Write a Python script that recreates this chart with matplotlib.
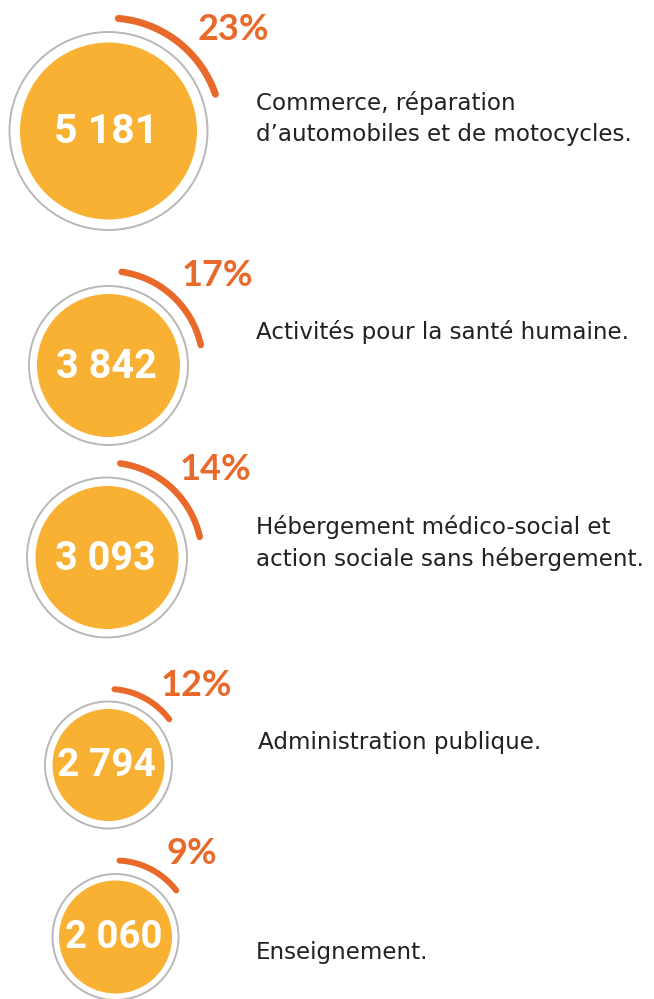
import numpy as np
import matplotlib
matplotlib.use("Agg")
import matplotlib.pyplot as plt
from matplotlib.patches import Circle

# ---- data ----
values = [5181, 3842, 3093, 2794, 2060]
value_labels = ["5 181", "3 842", "3 093", "2 794", "2 060"]
percents = [23, 17, 14, 12, 9]
labels = [
    "Commerce, réparation\nd\u2019automobiles et de motocycles.",
    "Activités pour la santé humaine.",
    "Hébergement médico-social et\naction sociale sans hébergement.",
    "Administration publique.",
    "Enseignement.",
]

# ---- layout (pixels) ----
centers = [(108.5, 131), (108.5, 365.5), (107, 557.5), (108.5, 765), (115.5, 937)]
fill_r = [88.5, 71.5, 71.5, 56, 56.5]
ring_r = [99, 79.5, 80, 63.5, 63]
arc_r = [113, 94.5, 95, 76, 76.5]
arc_a0 = [5, 8, 8, 4.5, 3]
arc_a1 = [71, 77.5, 77.5, 53, 52.5]
arc_w = [7.0, 6.5, 6.5, 6.0, 6.0]
pct_pos = [(233, 30), (217, 276), (215, 469), (196, 685), (192, 853)]
val_size = [29.5, 28.5, 28.5, 28, 27.5]
label_pos = [(256, 118.5), (256, 332), (256, 543), (258, 743), (256, 953)]

ORANGE = "#F9B133"
DARK = "#E8692A"
GRAY = "#B8B8B8"

fig = plt.figure(figsize=(6.54, 9.99), dpi=100)
ax = fig.add_axes([0, 0, 1, 1])
ax.set_xlim(0, 654)
ax.set_ylim(999, 0)
ax.axis("off")

for i in range(len(values)):
    cx, cy = centers[i]
    ax.add_patch(Circle((cx, cy), ring_r[i], facecolor="white", edgecolor=GRAY, lw=1.4))
    ax.add_patch(Circle((cx, cy), fill_r[i], facecolor=ORANGE, edgecolor="none"))
    th = np.radians(np.linspace(arc_a0[i], arc_a1[i], 100))
    ax.plot(cx + arc_r[i] * np.sin(th), cy - arc_r[i] * np.cos(th), color=DARK,
            lw=arc_w[i] * 0.72, solid_capstyle="round")
    ax.text(cx - 2, cy + 1, value_labels[i], color="white", fontsize=val_size[i],
            fontweight="bold", family="Roboto", ha="center", va="center")
    px, py = pct_pos[i]
    ax.text(px, py, f"{percents[i]}%", color=DARK, fontsize=26, fontweight="bold",
            family="Lato", ha="center", va="center")
    lx, ly = label_pos[i]
    ax.text(lx, ly, labels[i], color="#222222", fontsize=16.6, family="DejaVu Sans",
            ha="left", va="center", linespacing=1.45)

fig.savefig("out.png", dpi=100)
